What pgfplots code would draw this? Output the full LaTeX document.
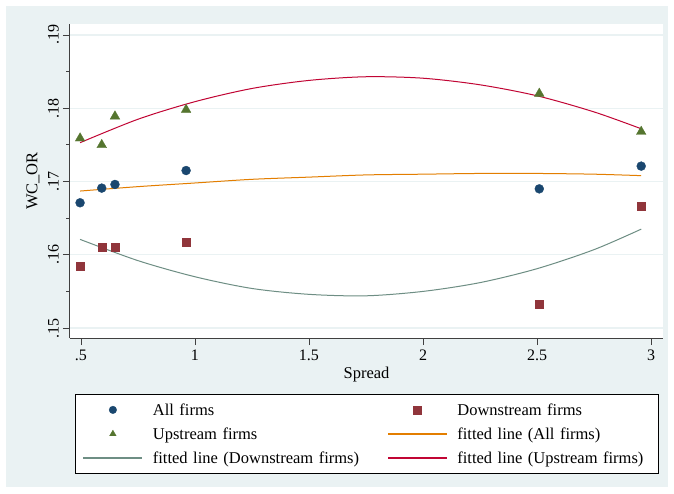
\documentclass[border=0pt]{standalone}
\usepackage{pgfplots}
\pgfplotsset{compat=1.18}
\usetikzlibrary{backgrounds}
\usepackage{fontspec}
\setmainfont{Liberation Serif}
\definecolor{bgc}{HTML}{EAF2F3}
\definecolor{snavy}{HTML}{1A476F}
\definecolor{smaroon}{HTML}{90353B}
\definecolor{sgreen}{HTML}{55752F}
\definecolor{sorange}{HTML}{E37E00}
\definecolor{steal}{HTML}{6E8E84}
\definecolor{scran}{HTML}{C10534}
\pgfplotsset{
  mylinelegend/.style={legend image code/.code={\path[draw=none,fill=none] (0pt,0pt) -- (69pt,0pt); \fill[#1] (0pt,-0.5pt) rectangle (58pt,0.5pt);}},
  mymarklegend/.style 2 args={legend image code/.code={\path[draw=none,fill=none] (0pt,0pt) -- (69pt,0pt); \path[draw=#1, fill=#1, only marks, mark=#2, mark size=3.8pt, line width=0.3pt, mark options={draw=#1,fill=#1}] plot coordinates {(29pt,0pt)};}},
}
\begin{document}
\begin{tikzpicture}
\begin{axis}[
  at={(0pt,0pt)}, anchor=south west,
  scale only axis, width=593pt, height=314pt,
  xmin=0.4518, xmax=3.0526, ymin=0.14864, ymax=0.1915,
  axis background/.style={fill=white},
  axis x line*=bottom, axis y line*=left,
  axis line style={black!75, line width=1pt},
  xtick={0.5,1,1.5,2,2.5,3}, xticklabels={.5,1,1.5,2,2.5,3},
  ytick={0.15,0.16,0.17,0.18,0.19}, yticklabels={.15,.16,.17,.18,.19},
  minor ytick={0.155,0.165,0.175,0.185},
  tick align=outside, major tick length=7pt, minor tick length=3.5pt,
  tick style={black!75, line width=0.8pt},
  ymajorgrids, major grid style={bgc, line width=1.2pt},
  /pgf/number format/assume math mode=true,
  ticklabel style={font=\fontsize{16}{16}\selectfont, inner sep=0pt},
  yticklabel style={rotate=90, anchor=south},
  yticklabel shift=4pt,
  xticklabel shift=5pt,
  xlabel={Spread}, ylabel={WC\_OR},
  label style={font=\fontsize{16.5}{17}\selectfont},
  xlabel style={at={(axis description cs:0.5,-0.1178)}, anchor=center},
  ylabel style={at={(axis description cs:-0.0624,0.5)}, anchor=center, rotate=0},
  legend columns=2,
  legend cell align=left,
  legend style={at={(axis description cs:0.00843,-0.1783)}, anchor=north west,
    draw=black, line width=0.8pt, fill=white, inner xsep=8pt, inner ysep=9pt,
    column sep=0pt, row sep=11pt, font=\fontsize{16.5}{18}\selectfont,
    nodes={inner sep=0pt, text height=12pt, text depth=1pt, text width=235pt}},
]
\addplot[only marks, mark=*, mark size=4.5pt, color=snavy, mark options={fill=snavy, line width=0.3pt}, mymarklegend={snavy}{*}] coordinates {
(0.496,0.1671) (0.591,0.1691) (0.649,0.1696) (0.961,0.1715) (2.510,0.1690) (2.957,0.1721)};
\addlegendentry{All firms}
\addplot[only marks, mark=square*, mark size=4pt, color=smaroon, mark options={fill=smaroon, line width=0.3pt}, mymarklegend={smaroon}{square*}] coordinates {
(0.496,0.1585) (0.591,0.1611) (0.649,0.1611) (0.961,0.1617) (2.510,0.1533) (2.957,0.1666)};
\addlegendentry[text width=193pt]{Downstream firms}
\addplot[only marks, mark=triangle*, mark size=5.6pt, color=sgreen, mark options={fill=sgreen, line width=0.3pt}, mymarklegend={sgreen}{triangle*}] coordinates {
(0.496,0.1759) (0.591,0.1750) (0.649,0.1789) (0.961,0.1798) (2.510,0.1820) (2.957,0.1768)};
\addlegendentry{Upstream firms}
\addplot[color=sorange, line width=1pt, smooth, mylinelegend=sorange] coordinates {
(0.496,0.1687) (0.75,0.1693) (1,0.1698) (1.25,0.1703) (1.5,0.1706) (1.75,0.1709) (2,0.1710) (2.25,0.1711) (2.5,0.1711) (2.75,0.1710) (2.957,0.1708)};
\addlegendentry[text width=193pt]{fitted line (All firms)}
\addplot[color=steal, line width=1pt, smooth, mylinelegend=steal] coordinates {
(0.496,0.1621) (0.75,0.1592) (1,0.1570) (1.25,0.1554) (1.5,0.1546) (1.75,0.1544) (2,0.1550) (2.25,0.1562) (2.5,0.1581) (2.75,0.1607) (2.957,0.1635)};
\addlegendentry{fitted line (Downstream firms)}
\addplot[color=scran, line width=1pt, smooth, mylinelegend=scran] coordinates {
(0.496,0.1753) (0.75,0.1785) (1,0.1809) (1.25,0.1827) (1.5,0.1838) (1.75,0.1843) (2,0.1841) (2.25,0.1832) (2.5,0.1817) (2.75,0.1795) (2.957,0.1772)};
\addlegendentry[text width=193pt]{fitted line (Upstream firms)}
\end{axis}
\begin{scope}[on background layer]
\fill[white] (-70pt,-155pt) rectangle (604pt,338pt);
\fill[bgc] (-64pt,-149pt) rectangle (598pt,332pt);
\end{scope}
\pgfresetboundingbox
\useasboundingbox (-70pt,-155pt) rectangle (604pt,338pt);
\end{tikzpicture}
\end{document}
